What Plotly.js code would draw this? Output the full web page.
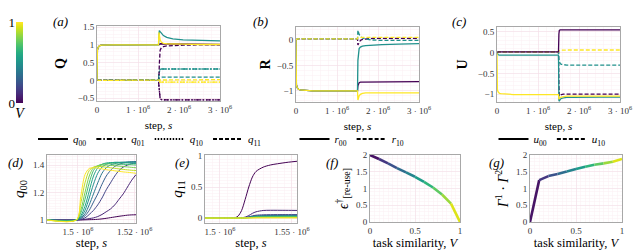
<!DOCTYPE html>
<html><head><meta charset="utf-8">
<script src="https://cdn.plot.ly/plotly-3.0.1.min.js"></script>
<style>html,body{margin:0;padding:0;background:#fff}#chart{width:640px;height:250px}</style>
</head><body><div id="chart"></div>
<script>
// ---------- DATA ----------
const steps = [0, 10000, 30000, 60000, 100000, 200000, 400000, 800000, 1200000, 1500000, 1510000, 1520000, 1540000, 1570000, 1620000, 1700000, 1850000, 2100000, 2500000, 3000000];
const stepTickVals = [0, 1000000, 2000000, 3000000];
const stepTickText = ['0', '1 · 10<sup>6</sup>', '2 · 10<sup>6</sup>', '3 · 10<sup>6</sup>'];
const topVLabels = ['V=0', 'V=0.5', 'V=1'];

// (a) Q
const q00_V0  = [0, 0.85, 0.93, 0.97, 0.99, 1, 1, 1, 1, 1, 1, 1.01, 1.03, 1.03, 1.02, 1.02, 1.01, 1.01, 1.01, 1.01];
const q00_V05 = [0, 0.85, 0.93, 0.97, 0.99, 1, 1, 1, 1, 1, 1.2, 1.4, 1.37, 1.32, 1.26, 1.21, 1.17, 1.14, 1.12, 1.11];
const q00_V1  = [0, 0.85, 0.93, 0.97, 0.99, 1, 1, 1, 1, 1, 1.35, 1.28, 1.14, 1.07, 1.04, 1.03, 1.02, 1.02, 1.01, 1.01];
const q01_V0  = [0, 0, 0, 0, 0, 0, 0, 0, 0, 0, -0.15, -0.42, -0.52, -0.54, -0.55, -0.55, -0.55, -0.55, -0.55, -0.55];
const q01_V05 = [0, 0, 0, 0, 0, 0, 0, 0, 0, 0, 0.2, 0.29, 0.31, 0.32, 0.32, 0.32, 0.32, 0.32, 0.32, 0.32];
const q01_V1  = [0, 0, 0, 0, 0, 0, 0, 0, 0, 0, -0.03, -0.05, -0.05, -0.05, -0.05, -0.05, -0.05, -0.05, -0.05, -0.05];
const q10_V0  = [0, 0, 0, 0, 0, 0, 0, 0, 0, 0, -0.15, -0.42, -0.52, -0.54, -0.55, -0.55, -0.55, -0.55, -0.55, -0.55];
const q10_V05 = [0, 0, 0, 0, 0, 0, 0, 0, 0, 0, 0.2, 0.29, 0.31, 0.32, 0.32, 0.32, 0.32, 0.32, 0.32, 0.32];
const q10_V1  = [0, 0, 0, 0, 0, 0, 0, 0, 0, 0, -0.03, -0.05, -0.05, -0.05, -0.05, -0.05, -0.05, -0.05, -0.05, -0.05];
const q11_V0  = [0, 0, 0, 0, 0, 0, 0, 0, 0, 0, 0.02, 0.45, 0.85, 0.92, 0.95, 0.97, 0.98, 0.99, 1.0, 1.0];
const q11_V05 = [0, 0, 0, 0, 0, 0, 0, 0, 0, 0, 0.02, 0.06, 0.08, 0.09, 0.09, 0.09, 0.09, 0.09, 0.09, 0.09];
const q11_V1  = [0, 0, 0, 0, 0, 0, 0, 0, 0, 0, 0.01, 0.02, 0.02, 0.02, 0.02, 0.02, 0.02, 0.02, 0.02, 0.02];

// (b) R
const r00_V0  = [0, -0.88, -0.94, -0.97, -0.98, -0.99, -1, -1, -1, -1, -0.9, -0.86, -0.84, -0.83, -0.83, -0.82, -0.82, -0.82, -0.82, -0.82];
const r00_V05 = [0, -0.88, -0.94, -0.97, -0.98, -0.99, -1, -1, -1, -1, -0.4, -0.22, -0.17, -0.14, -0.12, -0.11, -0.1, -0.09, -0.08, -0.07];
const r00_V1  = [0, -0.88, -0.94, -0.97, -0.98, -0.99, -1, -1, -1, -1, -1.18, -1.14, -1.1, -1.07, -1.05, -1.04, -1.04, -1.04, -1.04, -1.04];
const r10_V0  = [0, 0.01, 0.02, 0.02, 0.02, 0.02, 0.02, 0.02, 0.02, 0.02, -0.1, -0.08, -0.04, -0.01, 0.01, 0.02, 0.03, 0.03, 0.03, 0.03];
const r10_V05 = [0, 0.01, 0.02, 0.02, 0.02, 0.02, 0.02, 0.02, 0.02, 0.02, 0.19, 0.16, 0.11, 0.07, 0.04, 0.02, 0.0, -0.01, -0.01, -0.01];
const r10_V1  = [0, 0.01, 0.02, 0.02, 0.02, 0.02, 0.02, 0.02, 0.02, 0.02, 0.05, 0.05, 0.05, 0.05, 0.05, 0.05, 0.05, 0.05, 0.05, 0.05];

// (c) U
const u00_V0  = [0, 0.01, 0.02, 0.02, 0.02, 0.02, 0.02, 0.02, 0.02, 0.02, 0.45, 0.54, 0.55, 0.55, 0.55, 0.55, 0.55, 0.55, 0.55, 0.55];
const u00_V05 = [0, -0.03, -0.05, -0.06, -0.06, -0.06, -0.06, -0.06, -0.06, -0.06, -1.15, -1.17, -1.13, -1.1, -1.09, -1.08, -1.08, -1.07, -1.07, -1.07];
const u00_V1  = [0, -0.9, -0.95, -0.98, -0.99, -1.0, -1.01, -1.01, -1.01, -1.01, -1.12, -1.1, -1.08, -1.07, -1.06, -1.05, -1.05, -1.05, -1.05, -1.05];
const u10_V0  = [0, 0.01, 0.02, 0.02, 0.02, 0.02, 0.02, 0.02, 0.02, 0.02, -0.8, -1.05, -1.03, -1.01, -1.0, -1.0, -1.0, -1.0, -1.0, -1.0];
const u10_V05 = [0, 0.01, 0.02, 0.02, 0.02, 0.02, 0.02, 0.02, 0.02, 0.02, -0.18, -0.23, -0.26, -0.28, -0.29, -0.3, -0.3, -0.3, -0.3, -0.3];
const u10_V1  = [0, 0.01, 0.02, 0.02, 0.02, 0.02, 0.02, 0.02, 0.02, 0.02, 0.05, 0.06, 0.06, 0.06, 0.065, 0.065, 0.065, 0.065, 0.065, 0.065];

// (d) q00 zoom, V = 0 ... 1
const simGrid = [0, 0.1, 0.2, 0.3, 0.4, 0.5, 0.6, 0.7, 0.8, 0.9, 1];
const dSteps = [1489000, 1499500, 1501000, 1502500, 1504000, 1505500, 1507000, 1508500, 1510000, 1511500, 1513000, 1514500, 1516000, 1517500, 1519000, 1520500];
const dTickVals = [1500000, 1520000];
const dTickText = ['1.5 · 10<sup>6</sup>', '1.52 · 10<sup>6</sup>'];
const d_V00 = [1, 1, 1, 1.001, 1.002, 1.003, 1.005, 1.008, 1.012, 1.017, 1.022, 1.027, 1.031, 1.035, 1.037, 1.038];
const d_V01 = [1, 1, 1.002, 1.005, 1.01, 1.015, 1.025, 1.04, 1.06, 1.08, 1.11, 1.15, 1.19, 1.24, 1.29, 1.33];
const d_V02 = [1, 1, 1.005, 1.015, 1.04, 1.07, 1.11, 1.16, 1.22, 1.27, 1.32, 1.36, 1.385, 1.40, 1.41, 1.415];
const d_V03 = [1, 1, 1.01, 1.03, 1.07, 1.13, 1.19, 1.26, 1.32, 1.36, 1.39, 1.405, 1.415, 1.42, 1.423, 1.425];
const d_V04 = [1, 1, 1.015, 1.045, 1.11, 1.19, 1.27, 1.34, 1.38, 1.40, 1.41, 1.418, 1.42, 1.422, 1.423, 1.424];
const d_V05 = [1, 1, 1.02, 1.07, 1.16, 1.26, 1.34, 1.385, 1.405, 1.415, 1.42, 1.42, 1.42, 1.42, 1.42, 1.42];
const d_V06 = [1, 1, 1.03, 1.10, 1.21, 1.32, 1.38, 1.405, 1.415, 1.418, 1.418, 1.417, 1.416, 1.415, 1.413, 1.41];
const d_V07 = [1, 1, 1.05, 1.15, 1.27, 1.36, 1.395, 1.405, 1.41, 1.41, 1.408, 1.406, 1.405, 1.403, 1.402, 1.40];
const d_V08 = [1, 1, 1.07, 1.2, 1.32, 1.38, 1.395, 1.40, 1.40, 1.398, 1.395, 1.392, 1.389, 1.386, 1.383, 1.38];
const d_V09 = [1, 1, 1.12, 1.27, 1.36, 1.385, 1.39, 1.388, 1.384, 1.38, 1.376, 1.372, 1.368, 1.365, 1.362, 1.36];
const d_V10 = [1, 1, 1.17, 1.33, 1.375, 1.38, 1.378, 1.372, 1.366, 1.362, 1.358, 1.354, 1.35, 1.347, 1.344, 1.34];

// (e) q11 zoom
const eSteps = [1489600, 1505000, 1510000, 1512500, 1515000, 1517500, 1520000, 1522500, 1525000, 1530000, 1535000, 1540000, 1547500, 1553500];
const eTickVals = [1500000, 1550000];
const eTickText = ['1.5 · 10<sup>6</sup>', '1.55 · 10<sup>6</sup>'];
const e_V00 = [0, 0, 0.003, 0.03, 0.12, 0.3, 0.5, 0.66, 0.75, 0.82, 0.855, 0.875, 0.9, 0.915];
const e_V01 = [0, 0, 0, 0.002, 0.005, 0.015, 0.04, 0.075, 0.1, 0.122, 0.125, 0.125, 0.124, 0.123];
const e_V02 = [0, 0, 0, 0, 0.002, 0.008, 0.02, 0.035, 0.045, 0.052, 0.054, 0.055, 0.055, 0.055];
const e_V03 = [0, 0, 0, 0, 0.002, 0.006, 0.015, 0.027, 0.035, 0.04, 0.042, 0.043, 0.044, 0.044];
const e_V04 = [0, 0, 0, 0, 0.001, 0.005, 0.012, 0.022, 0.029, 0.033, 0.035, 0.036, 0.036, 0.036];
const e_V05 = [0, 0, 0, 0, 0.001, 0.004, 0.01, 0.018, 0.024, 0.028, 0.03, 0.03, 0.031, 0.031];
const e_V06 = [0, 0, 0, 0, 0.001, 0.003, 0.008, 0.015, 0.02, 0.023, 0.025, 0.025, 0.026, 0.026];
const e_V07 = [0, 0, 0, 0, 0.001, 0.002, 0.006, 0.012, 0.016, 0.018, 0.019, 0.02, 0.02, 0.02];
const e_V08 = [0, 0, 0, 0, 0, 0.002, 0.004, 0.008, 0.011, 0.013, 0.014, 0.014, 0.015, 0.015];
const e_V09 = [0, 0, 0, 0, 0, 0.001, 0.002, 0.004, 0.006, 0.007, 0.008, 0.008, 0.008, 0.008];
const e_V10 = [0, 0, 0, 0, 0, 0, 0.001, 0.001, 0.002, 0.002, 0.002, 0.002, 0.002, 0.002];

// (f) error on re-use, (g) overlap
const fError = [2.0, 1.88, 1.75, 1.61, 1.48, 1.35, 1.2, 1.03, 0.82, 0.55, 0.0];
const gOverlap = [0, 1.25, 1.37, 1.43, 1.51, 1.58, 1.65, 1.71, 1.75, 1.8, 1.88];

// ---------- STYLE ----------
const FONT = 'Liberation Serif, DejaVu Serif, serif';
const viridis = ['#440154', '#482475', '#414487', '#355f8d', '#2a788e', '#21918c', '#22a884', '#44bf70', '#7ad151', '#bddf26', '#fde725'];
const viridisMid = ['#471365', '#453781', '#3b528b', '#2f6c8e', '#25848e', '#1e9c89', '#2fb47c', '#5ec962', '#9bd93c', '#dde318'];
const topColors = ['#440154', '#21918c', '#fde725'];
const DASH = {solid: 'solid', dash: '4px,2px', dashdot: '5px,2px,1.5px,2px', dot: '1.5px,1.5px'};
const W = 640, H = 250;
const xd = (a, b) => [a / W, b / W];
const yd = (t, b) => [1 - b / H, 1 - t / H];

const traces = [];
function addSeries(xa, ya, xs, ys, color, dash, width) {
  traces.push({type: 'scatter', mode: 'lines', x: xs, y: ys, xaxis: xa, yaxis: ya,
    line: {color: color, width: width, dash: DASH[dash]}, showlegend: false, hoverinfo: 'skip'});
}
// (a)
const qSets = [[q01_V0, q01_V05, q01_V1, 'dashdot'], [q10_V0, q10_V05, q10_V1, 'dot'], [q11_V0, q11_V05, q11_V1, 'dash'], [q00_V0, q00_V05, q00_V1, 'solid']];
qSets.forEach(s => { for (let i = 0; i < 3; i++) addSeries('x', 'y', steps, s[i], topColors[i], s[3], 1.3); });
// (b)
[[r10_V0, r10_V05, r10_V1, 'dash'], [r00_V0, r00_V05, r00_V1, 'solid']].forEach(s => { for (let i = 0; i < 3; i++) addSeries('x2', 'y2', steps, s[i], topColors[i], s[3], 1.3); });
// (c)
[[u10_V0, u10_V05, u10_V1, 'dash'], [u00_V0, u00_V05, u00_V1, 'solid']].forEach(s => { for (let i = 0; i < 3; i++) addSeries('x3', 'y3', steps, s[i], topColors[i], s[3], 1.3); });
// (d)
[d_V00, d_V01, d_V02, d_V03, d_V04, d_V05, d_V06, d_V07, d_V08, d_V09, d_V10].forEach((ys, i) => {
  traces.push({type: 'scatter', mode: 'lines', x: dSteps, y: ys, xaxis: 'x4', yaxis: 'y4', line: {color: viridis[i], width: 1, shape: 'spline', smoothing: 0.8}, showlegend: false});
});
// (e)
[e_V00, e_V01, e_V02, e_V03, e_V04, e_V05, e_V06, e_V07, e_V08, e_V09, e_V10].forEach((ys, i) => {
  traces.push({type: 'scatter', mode: 'lines', x: eSteps, y: ys, xaxis: 'x5', yaxis: 'y5', line: {color: viridis[i], width: 1, shape: 'spline', smoothing: 0.8}, showlegend: false});
});
// (f), (g) coloured segments
for (let i = 0; i < simGrid.length - 1; i++) {
  traces.push({type: 'scatter', mode: 'lines', x: simGrid.slice(i, i + 2), y: fError.slice(i, i + 2), xaxis: 'x6', yaxis: 'y6', line: {color: viridisMid[i], width: 2.6}, showlegend: false});
  traces.push({type: 'scatter', mode: 'lines', x: simGrid.slice(i, i + 2), y: gOverlap.slice(i, i + 2), xaxis: 'x7', yaxis: 'y7', line: {color: viridisMid[i], width: 2.6}, showlegend: false});
}
// colour bar
traces.push({type: 'heatmap', x: [0, 1], y: simGrid, z: simGrid.map(v => [v, v]), colorscale: 'Viridis', zmin: 0, zmax: 1, zsmooth: 'best', showscale: false, xaxis: 'x8', yaxis: 'y8', hoverinfo: 'skip'});

// legends
const legA = [['<i>q</i><sub>00</sub>', 'solid'], ['<i>q</i><sub>01</sub>', 'dashdot'], ['<i>q</i><sub>10</sub>', 'dot'], ['<i>q</i><sub>11</sub>', 'dash']];
legA.forEach(l => traces.push({type: 'scatter', mode: 'lines', x: [null], y: [null], xaxis: 'x', yaxis: 'y', name: l[0], line: {color: '#000', width: 2, dash: DASH[l[1]]}, legend: 'legend'}));
[['<i>r</i><sub>00</sub>', 'solid'], ['<i>r</i><sub>10</sub>', 'dash']].forEach(l => traces.push({type: 'scatter', mode: 'lines', x: [null], y: [null], xaxis: 'x2', yaxis: 'y2', name: l[0], line: {color: '#000', width: 2, dash: DASH[l[1]]}, legend: 'legend2'}));
[['<i>u</i><sub>00</sub>', 'solid'], ['<i>u</i><sub>10</sub>', 'dash']].forEach(l => traces.push({type: 'scatter', mode: 'lines', x: [null], y: [null], xaxis: 'x3', yaxis: 'y3', name: l[0], line: {color: '#000', width: 2, dash: DASH[l[1]]}, legend: 'legend3'}));

const tickFont = {family: FONT, size: 9, color: '#333'};
function ax(domain, range, extra) {
  return Object.assign({domain: domain, range: range, showline: true, mirror: true, linecolor: '#a8a8a8', linewidth: 1,
    showgrid: true, gridcolor: '#f4dfe7', gridwidth: 0.6, zeroline: false, ticks: '', tickfont: tickFont,
    minor: {showgrid: true, gridcolor: '#fbf0f4', gridwidth: 0.5, nticks: 5}, fixedrange: true, automargin: false}, extra || {});
}
const topTitle = (t) => ({text: t, font: {family: FONT, size: 11, color: '#000'}, standoff: 7});
const botTitle = (t) => ({text: t, font: {family: FONT, size: 12.5, color: '#000'}, standoff: 0});
const yTitle = (t, s, sz) => ({text: t, font: {family: FONT, size: sz || 14, color: '#000'}, standoff: s});
const legStyle = (xc) => ({orientation: 'h', x: xc / W, y: 1 - 139 / H, xanchor: 'center', yanchor: 'middle', font: {family: FONT, size: 11, color: '#000'},
  bgcolor: 'rgba(0,0,0,0)', itemwidth: 30, tracegroupgap: 0});

const layout = {
  width: W, height: H, margin: {l: 0, r: 0, t: 0, b: 0}, paper_bgcolor: '#fff', plot_bgcolor: '#fff',
  font: {family: FONT},
  xaxis: ax(xd(97, 220), [0, 3000000], {tickvals: stepTickVals, ticktext: stepTickText, title: topTitle('step, <i>s</i>'), anchor: 'y'}),
  yaxis: ax(yd(26, 101), [-0.58, 1.53], {tickvals: [-0.5, 0, 0.5, 1, 1.5], title: yTitle('<b>Q</b>', 8), anchor: 'x'}),
  xaxis2: ax(xd(296, 419), [0, 3000000], {tickvals: stepTickVals, ticktext: stepTickText, title: topTitle('step, <i>s</i>'), anchor: 'y2'}),
  yaxis2: ax(yd(27, 102), [-1.22, 0.255], {tickvals: [-1, -0.5, 0], title: yTitle('<b>R</b>', 2), anchor: 'x2'}),
  xaxis3: ax(xd(497, 620), [0, 3000000], {tickvals: stepTickVals, ticktext: stepTickText, title: topTitle('step, <i>s</i>'), anchor: 'y3'}),
  yaxis3: ax(yd(27, 102), [-1.19, 0.62], {tickvals: [-1, -0.5, 0, 0.5], title: yTitle('<b>U</b>', 6), anchor: 'x3'}),
  xaxis4: ax(xd(47, 136), [1489100, 1520500], {tickvals: dTickVals, ticktext: dTickText, title: botTitle('step, <i>s</i>'), anchor: 'y4'}),
  yaxis4: ax(yd(155, 223), [0.978, 1.473], {tickvals: [1, 1.2, 1.4], title: yTitle('<i>q</i><sub>00</sub>', 4, 15), anchor: 'x4'}),
  xaxis5: ax(xd(205, 297), [1489600, 1553500], {tickvals: eTickVals, ticktext: eTickText, title: botTitle('step, <i>s</i>'), anchor: 'y5'}),
  yaxis5: ax(yd(155, 223), [-0.08, 1.016], {tickvals: [0, 0.5, 1], title: yTitle('<i>q</i><sub>11</sub>', 4, 15), anchor: 'x5'}),
  xaxis6: ax(xd(370, 460), [0, 1], {tickvals: [0, 0.5, 1], title: botTitle('task similarity, <i>V</i>'), anchor: 'y6'}),
  yaxis6: ax(yd(155, 222), [0, 2], {tickvals: [0, 0.5, 1, 1.5, 2], title: yTitle('<i>ϵ</i><sup>†</sup><sub>[re-use]</sub>', 4, 14), anchor: 'x6'}),
  xaxis7: ax(xd(530, 622), [0, 1], {tickvals: [0, 0.5, 1], title: botTitle('task similarity, <i>V</i>'), anchor: 'y7'}),
  yaxis7: ax(yd(155, 222), [0, 2], {tickvals: [0, 0.5, 1, 1.5, 2], title: yTitle('<i>Γ</i><sup>1</sup> · <i>Γ</i><sup>2</sup>', 4, 14), anchor: 'x7'}),
  xaxis8: {domain: xd(16, 23), range: [0, 1], showticklabels: false, showgrid: false, zeroline: false, showline: false, ticks: '', fixedrange: true, anchor: 'y8',
    title: {text: '<i>V</i>', font: {family: FONT, size: 14, color: '#000'}, standoff: 5}},
  yaxis8: {domain: yd(22, 103), range: [0, 1], tickvals: [0, 1], ticktext: ['0', '1'], showgrid: false, zeroline: false, showline: false, ticks: '', fixedrange: true, anchor: 'x8',
    tickfont: {family: FONT, size: 13, color: '#000'}},
  legend: legStyle(150),
  legend2: legStyle(352),
  legend3: legStyle(552),
  annotations: [
    ['(a)', 60, 22], ['(b)', 260, 22], ['(c)', 459, 22], ['(d)', 15, 162], ['(e)', 182, 162], ['(f)', 332, 162], ['(g)', 496, 162]
  ].map(a => ({text: '<i>' + a[0] + '</i>', xref: 'paper', yref: 'paper', x: a[1] / W, y: 1 - a[2] / H, xanchor: 'center', yanchor: 'middle', showarrow: false, font: {family: FONT, size: 13, color: '#000'}}))
};

Plotly.newPlot('chart', traces, layout, {staticPlot: true, displayModeBar: false});
</script></body></html>
